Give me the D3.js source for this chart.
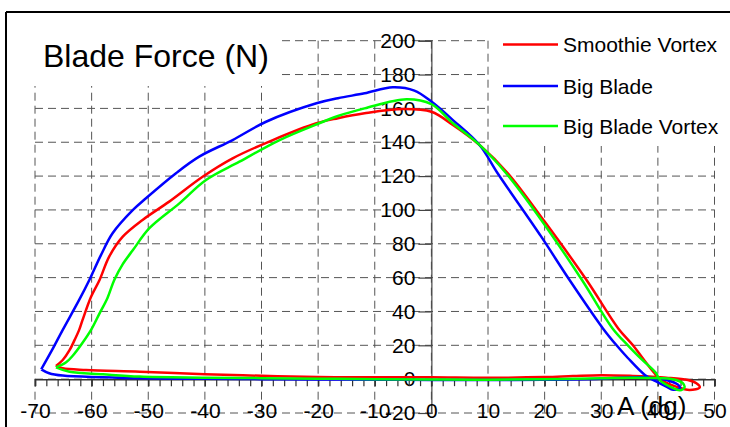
<!DOCTYPE html>
<html><head><meta charset="utf-8">
<script src="https://cdn.jsdelivr.net/npm/d3@7"></script>
<style>html,body{margin:0;padding:0;background:#fff;}svg{display:block;font-family:"Liberation Sans",Arial,sans-serif;}</style>
</head><body>
<script>
// ---- data (angle in degrees, force in N), each series is a closed loop ----
const seriesNames = ["Smoothie Vortex", "Big Blade", "Big Blade Vortex"];
const seriesColors = ["#ff0000", "#0000ff", "#00ff00"];

const smoothieAngle = [-66.3,-65.1,-63.9,-63.0,-62.2,-61.6,-60.1,-58.6,-56.9,-54.5,-51.0,-46.3,-40.4,-35.1,-28.0,-20.3,-16.5,-11.8,-5.0,0.0,3.8,8.5,13.5,20.0,27.4,33.0,35.6,37.4,39.4,40.6,43.2,45.6,47.4,46.8,45.3,41.5,38.5,35.6,30.0,25.0,20.0,10.0,0.0,-10.0,-20.0,-30.0,-40.0,-51.5,-61.0,-65.1,-66.3];
const smoothieForce = [7.8,11.3,17.1,23.2,29.1,35.0,48.7,58.6,72.4,84.2,94.1,104.9,119.6,130.5,141.3,151.2,154.2,157.1,159.6,158.0,150.2,138.4,121.7,93.1,58.6,30.0,20.0,12.0,3.5,-0.5,-4.4,-6.4,-4.8,-2.4,-0.5,0.9,1.5,1.9,2.3,1.8,1.2,0.8,1.1,1.1,1.3,2.0,2.9,4.4,5.4,6.4,7.8];

const bigBladeAngle = [-68.9,-67.0,-65.1,-62.2,-60.4,-58.4,-56.3,-52.7,-50.4,-45.1,-41.0,-35.1,-29.2,-20.3,-16.5,-11.8,-6.8,-3.0,0.0,3.8,8.5,11.7,19.4,24.4,30.3,32.7,34.7,37.7,39.6,41.5,42.7,43.9,43.6,41.5,38.5,35.0,30.0,20.0,10.0,0.0,-10.0,-20.0,-30.0,-40.0,-51.5,-58.0,-65.1,-67.5,-68.9];
const bigBladeForce = [5.8,17.1,29.1,46.8,58.6,73.0,86.2,100.0,106.9,121.7,131.5,141.3,152.1,163.0,166.0,168.9,172.5,170.5,164.0,153.1,138.4,121.7,84.2,58.6,30.0,20.0,12.5,2.5,-1.2,-4.4,-6.2,-5.4,-3.4,-0.5,0.9,1.0,0.3,-0.3,-0.5,-0.5,-0.3,-0.2,0.0,0.2,0.5,1.1,2.1,3.5,5.8];

const vortexAngle = [-66.3,-64.5,-63.3,-61.6,-60.1,-58.6,-57.2,-56.0,-54.5,-52.7,-49.8,-44.5,-39.8,-33.9,-26.8,-19.8,-16.5,-11.8,-4.4,0.0,3.8,8.5,13.2,19.4,26.6,32.0,34.7,37.2,39.7,40.3,42.4,43.9,44.7,44.4,43.2,40.9,35.0,30.0,20.0,10.0,0.0,-10.0,-20.0,-30.0,-40.0,-51.5,-58.0,-63.9,-66.3];
const vortexForce = [7.0,10.0,14.0,21.5,29.1,38.9,48.0,58.6,68.0,76.3,89.2,103.9,117.7,128.5,141.3,151.2,155.5,160.0,165.4,162.5,151.2,138.4,121.7,94.1,58.6,30.0,20.0,11.5,3.5,-0.5,-4.8,-6.6,-4.8,-2.4,-0.5,0.5,0.8,0.5,0.0,-0.3,-0.2,0.0,0.3,0.6,0.9,1.5,2.9,4.4,7.0];

const xTicks = [-70,-60,-50,-40,-30,-20,-10,0,10,20,30,40,50];
const yTicks = [-20,0,20,40,60,80,100,120,140,160,180,200];
const chartTitle = "Blade Force (N)";
const xTitle = "A (dg)";

// ---- drawing ----
const W = 730, H = 427;
const svg = d3.select("body").append("svg").attr("width", W).attr("height", H);

const x = d3.scaleLinear().domain([-70, 50]).range([35, 714.5]);
const y = d3.scaleLinear().domain([-20, 200]).range([413, 40.7]);
const fmt = d => String(d);

// frame
svg.append("line").attr("x1", 6).attr("x2", W).attr("y1", 12).attr("y2", 12).attr("stroke", "#000").attr("stroke-width", 2);
svg.append("line").attr("x1", 6).attr("x2", 6).attr("y1", 12).attr("y2", H).attr("stroke", "#000").attr("stroke-width", 2);

// grid
const grid = svg.append("g").attr("stroke", "#555").attr("stroke-width", 1).attr("stroke-dasharray", "8,5").attr("fill", "none");
xTicks.forEach(t => {
  grid.append("line").attr("x1", x(t)).attr("x2", x(t)).attr("y1", y(200)).attr("y2", y(-20));
});
yTicks.forEach(t => {
  grid.append("line").attr("x1", x(-70)).attr("x2", x(50)).attr("y1", y(t)).attr("y2", y(t));
});

// boxes hiding grid behind title and legend
svg.append("rect").attr("x", 12).attr("y", 14).attr("width", 268).attr("height", 72).attr("fill", "#fff");
svg.append("rect").attr("x", 490).attr("y", 14).attr("width", 240).attr("height", 132).attr("fill", "#fff");

// y axis at x=0
const yAxis = d3.axisLeft(y).tickValues(yTicks).tickSize(13).tickPadding(3).tickFormat(fmt);
const gy = svg.append("g").attr("transform", `translate(${x(0)},0)`).call(yAxis);
gy.select(".domain").attr("stroke", "#444").attr("stroke-width", 1.2);
gy.selectAll(".tick line").attr("stroke", "#444").attr("stroke-width", 1.2);
gy.selectAll(".tick text").attr("font-size", 21).attr("fill", "#000").attr("font-family", "Liberation Sans, Arial, sans-serif");

// x axis at y=0 with minor ticks
const minorTicks = d3.range(-70, 51, 2);
const xAxisMinor = d3.axisBottom(x).tickValues(minorTicks).tickSize(7).tickFormat("");
const gxm = svg.append("g").attr("transform", `translate(0,${y(0)})`).call(xAxisMinor);
gxm.select(".domain").attr("stroke", "#333").attr("stroke-width", 1.5);
gxm.selectAll(".tick line").attr("stroke", "#333").attr("stroke-width", 1.2);

const xAxis = d3.axisBottom(x).tickValues(xTicks).tickSize(7).tickPadding(17).tickFormat(fmt);
const gx = svg.append("g").attr("transform", `translate(0,${y(0)})`).call(xAxis);
gx.select(".domain").remove();
gx.selectAll(".tick line").attr("stroke", "#333").attr("stroke-width", 1.2);
gx.selectAll(".tick text").attr("font-size", 21).attr("fill", "#000").attr("font-family", "Liberation Sans, Arial, sans-serif");

// curves
const allSeries = [
  {angle: smoothieAngle, force: smoothieForce},
  {angle: bigBladeAngle, force: bigBladeForce},
  {angle: vortexAngle, force: vortexForce}
];
const line = d3.line().x(d => x(d[0])).y(d => y(d[1])).curve(d3.curveCatmullRom.alpha(0.5));
allSeries.forEach((s, i) => {
  const pts = s.angle.map((a, j) => [a, s.force[j]]);
  svg.append("path").attr("d", line(pts)).attr("fill", "none")
    .attr("stroke", seriesColors[i]).attr("stroke-width", 2.5).attr("stroke-linejoin", "round");
});

// title
svg.append("text").attr("x", 43).attr("y", 67).attr("font-size", 32).attr("fill", "#000").text(chartTitle);
svg.append("text").attr("x", 617).attr("y", 415).attr("font-size", 26).attr("fill", "#000").text(xTitle);

// legend
const legY = [44.5, 86, 126];
seriesNames.forEach((n, i) => {
  svg.append("line").attr("x1", 503).attr("x2", 558).attr("y1", legY[i]).attr("y2", legY[i])
    .attr("stroke", seriesColors[i]).attr("stroke-width", 2.5);
  svg.append("text").attr("x", 563).attr("y", legY[i]).attr("dy", "0.36em").attr("font-size", 21).attr("fill", "#000").text(n);
});
</script>
</body></html>
